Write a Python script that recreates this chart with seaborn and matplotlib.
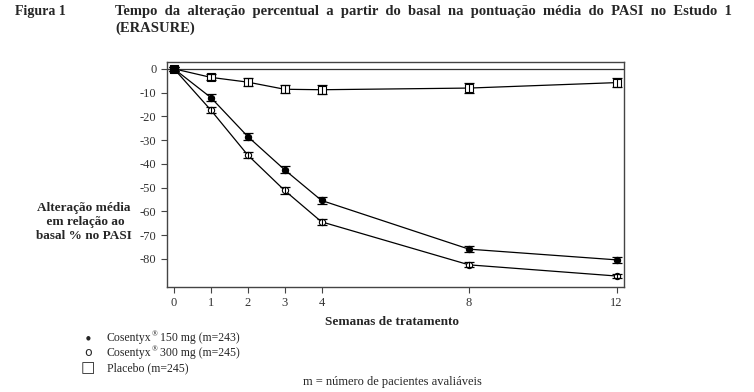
import numpy as np
import pandas as pd
import seaborn as sns
import matplotlib
matplotlib.use("Agg")
import matplotlib.pyplot as plt

# data
weeks = [0, 1, 2, 3, 4, 8, 12]
cos150 = [0, -12.1, -28.5, -42.5, -55.4, -75.9, -80.4]
cos150_err = [0.8, 1.3, 1.5, 1.5, 1.5, 1.2, 1.3]
cos300 = [0, -17.4, -36.3, -51.2, -64.4, -82.5, -87.2]
cos300_err = [0.8, 1.3, 1.4, 1.4, 1.3, 1.1, 0.9]
placebo = [0, -3.6, -5.6, -8.6, -8.8, -8.1, -5.8]
placebo_err = [0.8, 1.3, 1.6, 1.7, 1.8, 2.0, 2.0]

groups = ["Placebo", "Cosentyx 300", "Cosentyx 150"]
df = pd.DataFrame({
    "week": weeks * 3,
    "change": placebo + cos300 + cos150,
    "err": placebo_err + cos300_err + cos150_err,
    "group": np.repeat(groups, len(weeks)),
})

sns.set_style("white")
plt.rcParams["font.family"] = ["Liberation Serif", "DejaVu Serif"]
plt.rcParams["axes.unicode_minus"] = False

fig = plt.figure(figsize=(7.54, 3.92), dpi=100)
ax = fig.add_axes([0.2215, 0.268, 0.606, 0.574])

styles = {
    "Placebo": dict(marker="s", mfc="white", ms=5.5),
    "Cosentyx 300": dict(marker="o", mfc="white", ms=4.5),
    "Cosentyx 150": dict(marker="o", mfc="black", ms=4.5),
}

ax.axhline(0, color="#333333", lw=0.9, zorder=1)
for g in groups:
    sub = df[df["group"] == g]
    sns.lineplot(data=sub, x="week", y="change", color="black", lw=0.9,
                 mec="black", mew=0.8, ax=ax, zorder=3, **styles[g])
    ax.errorbar(sub["week"], sub["change"], yerr=sub["err"], fmt="none",
                ecolor="black", elinewidth=0.8, capsize=3.5, capthick=0.9, zorder=4)

# baseline point shared by all groups
base = df[df["week"] == 0].head(1)
sns.scatterplot(data=base, x="week", y="change", marker="s", color="black",
                s=36, edgecolor="black", ax=ax, zorder=5, legend=False)

ax.set_xlim(-0.19, 12.2)
ax.set_ylim(-91.8, 2.9)
ax.set_xticks(weeks)
ax.set_yticks(range(0, -81, -10))
ax.set_xlabel("")
ax.set_ylabel("")
for s in ax.spines.values():
    s.set_color("#444444")
    s.set_linewidth(1.0)
ax.tick_params(axis="both", direction="out", length=4, width=0.8, color="#444444",
               labelsize=9, labelcolor="#333333", left=True, bottom=True)

fig.text(15 / 754, 1 - 12 / 392, "Figura 1", fontsize=10, fontweight="bold", va="center")
fig.text(115 / 754, 1 - 12 / 392,
         "Tempo  da  alteração  percentual  a  partir  do  basal  na  pontuação  média  do  PASI  no  Estudo  1",
         fontsize=10.5, fontweight="bold", va="center")
fig.text(115 / 754, 1 - 28 / 392, "(ERASURE)", fontsize=10.5, fontweight="bold", va="center")

fig.text(84 / 754, 1 - 222 / 392, "Alteração média\n em relação ao\nbasal % no PASI",
         fontsize=9.5, fontweight="bold", ha="center", va="center", linespacing=1.2)
fig.text(392 / 754, 1 - 322 / 392, "Semanas de tratamento", fontsize=9.5,
         fontweight="bold", ha="center", va="center")

# legend drawn as text rows, with a raised ® after the brand name
leg_rows = [("●", "Cosentyx", "150 mg (m=243)", 4),
            ("o", "Cosentyx", "300 mg (m=245)", 9),
            ("□", "Placebo (m=245)", None, 11)]
renderer = fig.canvas.get_renderer()
for i, (sym, lab, rest, fs) in enumerate(leg_rows):
    y = 1 - (338 + 15 * i) / 392
    fig.text(88 / 754, y, sym, fontsize=fs, ha="center", va="center",
             family=["DejaVu Sans"])
    t = fig.text(107 / 754, y, lab, fontsize=8.5, va="center")
    if rest is None:
        continue
    x1 = t.get_window_extent(renderer).x1 / fig.dpi / 7.54
    r = fig.text(x1, y + 3.5 / 392, "®", fontsize=5.5, va="center")
    x2 = r.get_window_extent(renderer).x1 / fig.dpi / 7.54
    fig.text(x2 + 2 / 754, y, rest, fontsize=8.5, va="center")

fig.text(392 / 754, 1 - 382 / 392, "m = número de pacientes avaliáveis",
         fontsize=9, ha="center", va="center")

fig.savefig("out.png", dpi=100)
